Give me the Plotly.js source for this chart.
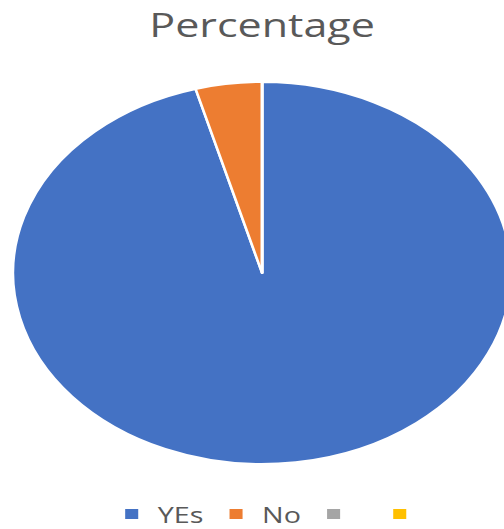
<!DOCTYPE html>
<html><head><meta charset="utf-8">
<script src="https://cdn.plot.ly/plotly-3.0.1.min.js"></script>
<style>
html,body{margin:0;padding:0;overflow:hidden;background:#fff;}
#wrap{width:504px;height:529px;overflow:hidden;position:relative;}
#chart{width:400px;height:529px;transform:scaleX(1.304);transform-origin:0 0;}
</style></head><body><div id="wrap"><div id="chart"></div></div>
<script>
const categories = ["YEs", "No", " ", "  "];
const values = [95.7, 4.3, 0, 0];
const colors = ["#4472C4", "#ED7D31", "#A5A5A5", "#FFC000"];
const chartTitle = "Percentage";

const data = [{
  type: "pie",
  labels: categories,
  values: values,
  sort: false,
  direction: "clockwise",
  rotation: 0,
  textinfo: "none",
  hoverinfo: "label+percent",
  marker: {colors: colors, line: {color: "#ffffff", width: 2}},
  domain: {x: [0.025, 0.98], y: [0.1229, 0.845]},
  showlegend: true
}];

const layout = {
  width: 400, height: 529,
  margin: {l: 0, r: 0, t: 0, b: 0, autoexpand: false},
  paper_bgcolor: "#ffffff",
  font: {family: "Open Sans, sans-serif", color: "#595959"},
  title: {text: chartTitle, font: {size: 33, color: "#595959"}, x: 0.5025, xanchor: "center", y: 0.952, yanchor: "middle", xref: "paper", yref: "container"},
  showlegend: true,
  legend: {orientation: "h", x: 0.53, xanchor: "center", y: 0.028, yanchor: "middle", font: {size: 22, color: "#595959"}, itemwidth: 30, tracegroupgap: 0}
};

Plotly.newPlot("chart", data, layout, {staticPlot: true});
</script></body></html>
